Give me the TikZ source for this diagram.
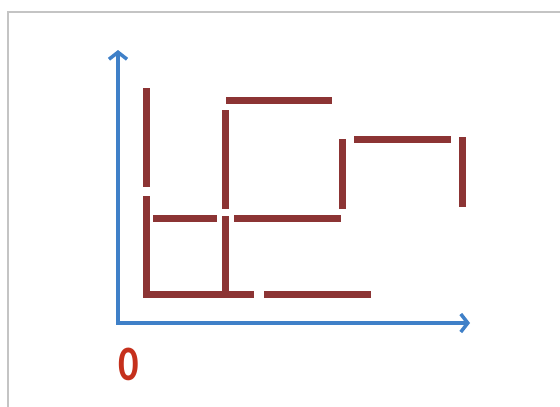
\documentclass[tikz,border=0pt]{standalone}
\usepackage{fontspec}
\setmainfont{Carlito}
\usetikzlibrary{arrows.meta}
\definecolor{stick}{HTML}{8C3434}
\definecolor{axisblue}{HTML}{3F80C8}
\definecolor{zerored}{HTML}{C5301C}
\definecolor{framegray}{HTML}{C4C4C4}
\begin{document}
\begin{tikzpicture}[x=1pt,y=-1pt,
  stickline/.style={draw=stick,line width=7pt,line cap=butt},
  axisline/.style={draw=axisblue,line width=3.5pt,-{Straight Barb[length=7pt,width=18pt,line width=3.5pt]}},
  zerolabel/.style={text=zerored,font=\fontsize{45}{45}\selectfont\bfseries,inner sep=0pt,xscale=0.9,yscale=1.1}]
\useasboundingbox (0,0) rectangle (560,407);
\fill[white] (0,0) rectangle (560,407);
\draw[framegray,line width=2.5pt] (8,420) -- (8,12) -- (570,12);
% axes
\coordinate (O) at (118,323);
\coordinate (ytip) at (118,50);
\coordinate (xtip) at (470,323);
\draw[axisline] ([yshift=-1.75pt]O) -- (ytip);
\draw[axisline] ([xshift=-1.75pt]O) -- (xtip);
\node[zerolabel] (zero) at (129,364) {0};
% matchsticks
\draw[stickline] (146,88) -- (146,187);
\draw[stickline] (146,196) -- (146,297);
\draw[stickline] (143,294) -- (254,294);
\draw[stickline] (264,294) -- (371,294);
\draw[stickline] (225,110) -- (225,209);
\draw[stickline] (225,216) -- (225,297);
\draw[stickline] (153,218) -- (217,218);
\draw[stickline] (234,218) -- (341,218);
\draw[stickline] (226,100) -- (332,100);
\draw[stickline] (342,139) -- (342,209);
\draw[stickline] (354,139) -- (451,139);
\draw[stickline] (462,137) -- (462,207);
\end{tikzpicture}
\end{document}
